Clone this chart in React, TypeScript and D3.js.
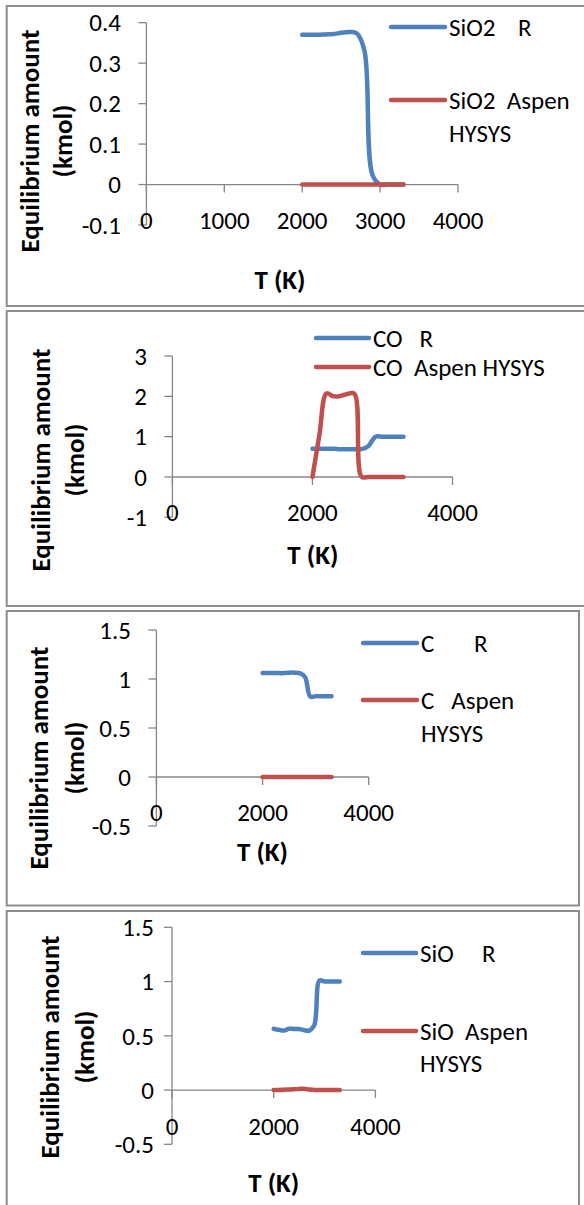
import React from "react";
import * as d3 from "d3";

// Temperature grid (K) shared by every series
const temperatures = [2000, 2100, 2200, 2300, 2400, 2500, 2600, 2700, 2800, 2900, 3000, 3100, 3200, 3300];

// Equilibrium amounts (kmol)
const sio2R = [0.37, 0.37, 0.37, 0.371, 0.372, 0.375, 0.377, 0.374, 0.33, 0.025, 0, 0, 0, 0];
const sio2Aspen = [0, 0, 0, 0, 0, 0, 0, 0, 0, 0, 0, 0, 0, 0];
const coR = [0.7, 0.7, 0.7, 0.7, 0.69, 0.69, 0.69, 0.69, 0.77, 1.0, 1.0, 1.0, 1.0, 1.0];
const coAspen = [0, 1.05, 2.07, 2.0, 2.01, 2.06, 2.06, 0.01, 0, 0, 0, 0, 0, 0];
const cR = [1.06, 1.06, 1.06, 1.06, 1.06, 1.065, 1.065, 1.06, 1.02, 0.82, 0.825, 0.825, 0.825, 0.825];
const cAspen = [0, 0, 0, 0, 0, 0, 0, 0, 0, 0, 0, 0, 0, 0];
const sioR = [0.565, 0.555, 0.548, 0.565, 0.563, 0.562, 0.552, 0.548, 0.6, 1.01, 1.0, 1.0, 1.0, 1.0];
const sioAspen = [0, 0, 0.003, 0.005, 0.007, 0.01, 0.012, 0.005, 0, 0, 0, 0, 0, 0];

// Axis ticks
const xTicksFine = [0, 1000, 2000, 3000, 4000];
const xTicksCoarse = [0, 2000, 4000];
const sio2Ticks = [-0.1, 0, 0.1, 0.2, 0.3, 0.4];
const coTicks = [-1, 0, 1, 2, 3];
const halfTicks = [-0.5, 0, 0.5, 1, 1.5];

// Legend labels
const sio2Labels = ["SiO2    R", "SiO2  Aspen", "HYSYS"];
const coLabels = ["CO   R", "CO  Aspen HYSYS"];
const cLabels = ["C       R", "C   Aspen", "HYSYS"];
const sioLabels = ["SiO     R", "SiO  Aspen", "HYSYS"];

const BLUE = "#4F81BD";
const RED = "#C0504D";
const AXIS = "#868686";
const FRAME = "#8e8e8e";
const FONT = "Carlito, Lato, 'Open Sans', sans-serif";
const TICK_FONT = 25;
const TITLE_FONT = 27;

type PanelSpec = {
  top: number;
  bottom: number;
  right: number;
  xRange: [number, number];
  yRange: [number, number];
  xTicks: number[];
  yTicks: number[];
  r: number[];
  aspen: number[];
  labels: string[];
  xLabelY: number;
  yLabelRight: number;
  titleX: [number, number];
  titleY: number;
  xTitle: [number, number];
  legendX: [number, number];
  legendY: number[];
};

const panels: PanelSpec[] = [
  {
    top: 6, bottom: 306, right: 600,
    xRange: [146.4, 458], yRange: [225, 22.7],
    xTicks: xTicksFine, yTicks: sio2Ticks, r: sio2R, aspen: sio2Aspen, labels: sio2Labels,
    xLabelY: 220, yLabelRight: 121, titleX: [30, 63], titleY: 141, xTitle: [280, 280],
    legendX: [391, 445], legendY: [27, 100, 133],
  },
  {
    top: 311, bottom: 606, right: 600,
    xRange: [172.4, 452.5], yRange: [517.3, 356],
    xTicks: xTicksCoarse, yTicks: coTicks, r: coR, aspen: coAspen, labels: coLabels,
    xLabelY: 512, yLabelRight: 147, titleX: [41, 74.5], titleY: 460, xTitle: [312.8, 555],
    legendX: [316, 369], legendY: [338, 367],
  },
  {
    top: 611, bottom: 905.5, right: 579,
    xRange: [156.4, 368.7], yRange: [826, 630],
    xTicks: xTicksCoarse, yTicks: halfTicks, r: cR, aspen: cAspen, labels: cLabels,
    xLabelY: 812, yLabelRight: 131, titleX: [39, 74.5], titleY: 758, xTitle: [262.5, 852],
    legendX: [363, 417], legendY: [643, 700, 733],
  },
  {
    top: 911, bottom: 1230, right: 579,
    xRange: [172, 375.4], yRange: [1144.3, 927.3],
    xTicks: xTicksCoarse, yTicks: halfTicks, r: sioR, aspen: sioAspen, labels: sioLabels,
    xLabelY: 1126, yLabelRight: 154, titleX: [50, 85], titleY: 1047, xTitle: [273.7, 1183],
    legendX: [363, 416], legendY: [953, 1031, 1063],
  },
];

function Panel({ p }: { p: PanelSpec }) {
  const yDomain = [p.yTicks[0], p.yTicks[p.yTicks.length - 1]];
  const x = d3.scaleLinear().domain([0, 4000]).range(p.xRange);
  const y = d3.scaleLinear().domain(yDomain).range(p.yRange);
  const line = d3
    .line<number>()
    .x((_, i) => x(temperatures[i]))
    .y((v) => y(v))
    .curve(d3.curveCatmullRom.alpha(0.5));
  const x0 = x(0);
  const y0 = y(0);
  const tick = 8;
  const seriesStyle = { fill: "none", strokeWidth: 4.5, strokeLinecap: "round" as const, strokeLinejoin: "round" as const };

  return (
    <g>
      <rect
        x={6.7}
        y={p.top}
        width={p.right - 6.7}
        height={p.bottom - p.top}
        fill="#fff"
        stroke={FRAME}
        strokeWidth={2}
      />
      {/* value axis */}
      <line x1={x0} x2={x0} y1={y(yDomain[0])} y2={y(yDomain[1])} stroke={AXIS} strokeWidth={1.3} />
      {p.yTicks.map((t) => (
        <g key={"y" + t}>
          <line x1={x0 - tick} x2={x0} y1={y(t)} y2={y(t)} stroke={AXIS} strokeWidth={1.3} />
          <text x={p.yLabelRight} y={y(t)} dy="0.35em" textAnchor="end" fontSize={TICK_FONT} fill="#000">
            {String(t)}
          </text>
        </g>
      ))}
      {/* temperature axis through zero */}
      <line x1={x(0)} x2={x(4000)} y1={y0} y2={y0} stroke={AXIS} strokeWidth={1.3} />
      {p.xTicks.map((t) => (
        <g key={"x" + t}>
          <line x1={x(t)} x2={x(t)} y1={y0} y2={y0 + tick} stroke={AXIS} strokeWidth={1.3} />
          <text x={x(t)} y={p.xLabelY} dy="0.35em" textAnchor="middle" fontSize={TICK_FONT} fill="#000">
            {String(t)}
          </text>
        </g>
      ))}
      {/* series */}
      <path d={line(p.r) || ""} stroke={BLUE} {...seriesStyle} />
      <path d={line(p.aspen) || ""} stroke={RED} {...seriesStyle} />
      {/* axis titles */}
      <text
        transform={`translate(${p.titleX[0]},${p.titleY}) rotate(-90)`}
        dy="0.35em"
        textAnchor="middle"
        fontSize={TITLE_FONT}
        fontWeight="bold"
      >
        Equilibrium amount
      </text>
      <text
        transform={`translate(${p.titleX[1]},${p.titleY}) rotate(-90)`}
        dy="0.35em"
        textAnchor="middle"
        fontSize={TITLE_FONT}
        fontWeight="bold"
      >
        (kmol)
      </text>
      <text x={p.xTitle[0]} y={p.xTitle[1]} dy="0.35em" textAnchor="middle" fontSize={TITLE_FONT} fontWeight="bold">
        T (K)
      </text>
      {/* legend */}
      {[BLUE, RED].map((c, i) => (
        <line
          key={c}
          x1={p.legendX[0]}
          x2={p.legendX[1]}
          y1={p.legendY[i]}
          y2={p.legendY[i]}
          stroke={c}
          strokeWidth={4.5}
          strokeLinecap="round"
        />
      ))}
      {p.labels.map((s, i) => (
        <text
          key={s}
          x={p.legendX[1] + 4}
          y={p.legendY[i]}
          dy="0.35em"
          fontSize={TICK_FONT}
          style={{ whiteSpace: "pre" }}
        >
          {s}
        </text>
      ))}
    </g>
  );
}

export default function App() {
  React.useEffect(() => {
    document.body.style.margin = "0";
    document.body.style.overflow = "hidden";
  }, []);
  return (
    <svg
      width={584}
      height={1205}
      viewBox="0 0 584 1205"
      style={{ position: "absolute", left: 0, top: 0, background: "#fff", fontFamily: FONT }}
    >
      {panels.map((p, i) => (
        <Panel key={i} p={p} />
      ))}
    </svg>
  );
}
